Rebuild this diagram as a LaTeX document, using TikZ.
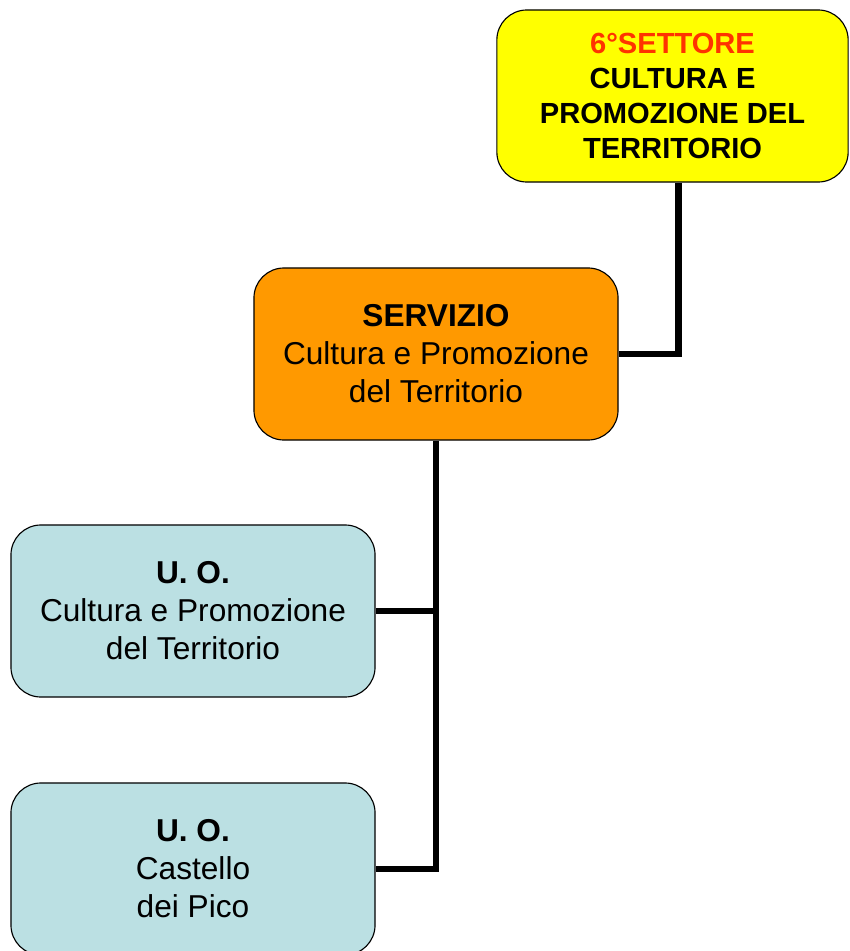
\documentclass[tikz,border=0pt]{standalone}
\usepackage{fontspec}
\setmainfont{Liberation Sans}
\usepackage{xcolor}
\definecolor{giallo}{RGB}{255,255,0}
\definecolor{arancio}{RGB}{255,153,0}
\definecolor{azzurro}{RGB}{187,224,227}
\definecolor{rosso_titolo}{RGB}{255,51,0}
\usetikzlibrary{positioning}

\begin{document}
\begin{tikzpicture}
[
    x = 0.025cm, y = -0.025cm,
    box/.style = {draw, line width = 0.8pt, rounded corners = 0.75cm, align = center, inner sep = 0pt, minimum height = 4.3cm},
    settore/.style = {box, fill = giallo, minimum width = 8.78cm, font = \fontsize{20.7}{24.9}\selectfont\bfseries},
    servizio/.style = {box, fill = arancio, minimum width = 9.1cm, font = \fontsize{22.5}{27}\selectfont},
    unita/.style = {box, fill = azzurro, minimum width = 9.1cm, font = \fontsize{22.5}{27}\selectfont},
    conn/.style = {line width = 4.3pt}
]
\useasboundingbox (0,0) rectangle (849,951);

\node[settore] (sett) at (672.5,96) {{\color{rosso_titolo}6°SETTORE}\\CULTURA E\\PROMOZIONE DEL\\TERRITORIO};
\node[servizio] (serv) at (436,354) {\textbf{SERVIZIO}\\Cultura e Promozione\\del Territorio};
\node[unita] (uo_cultura) at (193,611) {\textbf{U. O.}\\Cultura e Promozione\\del Territorio};
\node[unita] (uo_castello) at (193,869) {\textbf{U. O.}\\Castello\\dei Pico};

\draw[conn] (sett.south) ++(6,0) |- (serv.east);
\draw[conn] (serv.south) |- (uo_castello.east);
\draw[conn] (uo_cultura.east) -- (uo_cultura.east -| serv.south);
\end{tikzpicture}
\end{document}
